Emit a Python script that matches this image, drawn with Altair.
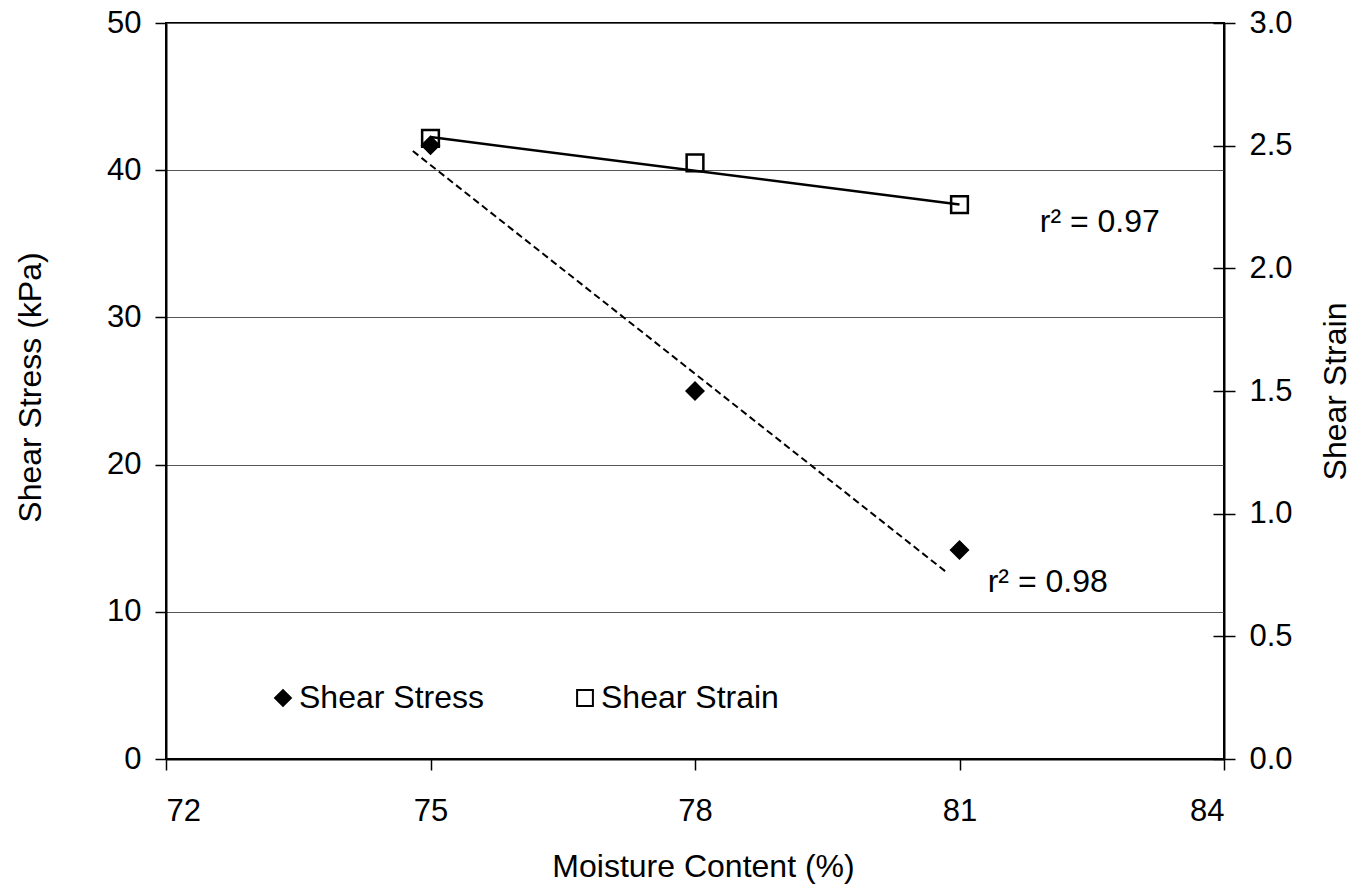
import altair as alt
import pandas as pd

FONT = "Liberation Sans"

# Measured points
moisture = [75, 78, 81]
shear_stress = [41.7, 25.0, 14.2]      # kPa
shear_strain = [2.53, 2.43, 2.26]

# Linear trendlines (end points of each fitted line)
stress_fit_x = [74.8, 80.85]
stress_fit_y = [41.3, 12.7]
strain_fit_x = [75.0, 81.0]
strain_fit_y = [2.535, 2.26]

# Coefficients of determination
stress_r2 = "r² = 0.98"
strain_r2 = "r² = 0.97"

x_ticks = [72, 75, 78, 81, 84]
stress_ticks = [0, 10, 20, 30, 40, 50]
strain_ticks = [0, 0.5, 1.0, 1.5, 2.0, 2.5, 3.0]

series_names = ["Shear Stress", "Shear Strain"]

stress_df = pd.DataFrame({"moisture": moisture, "value": shear_stress, "series": series_names[0]})
strain_df = pd.DataFrame({"moisture": moisture, "value": shear_strain, "series": series_names[1]})
stress_fit = pd.DataFrame({"moisture": stress_fit_x, "value": stress_fit_y})
strain_fit = pd.DataFrame({"moisture": strain_fit_x, "value": strain_fit_y})
stress_note = pd.DataFrame({"moisture": [81.32], "value": [12.0], "label": [stress_r2]})
strain_note = pd.DataFrame({"moisture": [81.91], "value": [2.19], "label": [strain_r2]})

x_axis = alt.Axis(
    values=x_ticks, title="Moisture Content (%)", tickSize=11, labelPadding=26, grid=False,
    titleX=537, titleY=107, titleBaseline="middle", titleAlign="center",
)
x_enc = alt.X("moisture:Q", scale=alt.Scale(domain=[72, 84], nice=False, zero=False), axis=x_axis)

left_axis = alt.Axis(
    values=stress_ticks, title="Shear Stress (kPa)", tickSize=11, labelPadding=14,
    grid=True, gridColor="#555555", gridWidth=1.2, orient="left",
    titleAngle=270, titleX=-136, titleY=364, titleBaseline="middle", titleAlign="center",
)
right_axis = alt.Axis(
    values=strain_ticks, format=".1f", title="Shear Strain", tickSize=11, labelPadding=14,
    grid=False, orient="right",
    titleAngle=270, titleX=111, titleY=368, titleBaseline="middle", titleAlign="center",
)
inner_ticks = alt.Axis(
    values=strain_ticks, title=None, tickSize=11, labels=False, domain=False,
    grid=False, orient="right", offset=-11,
)

y_left = alt.Y("value:Q", scale=alt.Scale(domain=[0, 50], nice=False), axis=left_axis)
y_right = alt.Y("value:Q", scale=alt.Scale(domain=[0, 3], nice=False), axis=right_axis)

legend = alt.Legend(
    orient="none", legendX=101, legendY=659, direction="horizontal", title=None,
    labelFont=FONT, labelFontSize=32, labelColor="black", labelLimit=400, symbolSize=250,
    symbolStrokeWidth=2, labelOffset=0, columnPadding=85, padding=0,
)
shape_enc = alt.Shape("series:N", scale=alt.Scale(domain=series_names, range=["diamond", "square"]), legend=legend)
fill_enc = alt.Fill("series:N", scale=alt.Scale(domain=series_names, range=["black", "white"]), legend=legend)
stroke_enc = alt.Stroke("series:N", scale=alt.Scale(domain=series_names, range=["black", "black"]), legend=legend)

# Shear strain (right axis)
strain_pts = alt.Chart(strain_df).mark_point(
    filled=True, strokeWidth=2.5, size=280, opacity=1
).encode(x=x_enc, y=y_right, shape=shape_enc, fill=fill_enc, stroke=stroke_enc)
strain_line = alt.Chart(strain_fit).mark_line(color="black", strokeWidth=2.5).encode(x=x_enc, y=y_right)
strain_text = alt.Chart(strain_note).mark_text(
    align="left", baseline="middle", font=FONT, fontSize=32, color="black"
).encode(x=x_enc, y=y_right, text="label:N")
strain_layer = alt.layer(strain_pts, strain_line, strain_text)

# Tick marks crossing the right axis toward the inside
tick_layer = alt.Chart(strain_df).mark_point(opacity=0).encode(
    x=x_enc, y=alt.Y("value:Q", scale=alt.Scale(domain=[0, 3], nice=False), axis=inner_ticks)
)

# Shear stress (left axis), drawn above the strain markers
stress_line = alt.Chart(stress_fit).mark_line(
    color="black", strokeWidth=2, strokeDash=[7, 4]
).encode(x=x_enc, y=y_left)
stress_pts = alt.Chart(stress_df).mark_point(
    filled=True, strokeWidth=1.5, size=320, opacity=1
).encode(x=x_enc, y=y_left, shape=shape_enc, fill=fill_enc, stroke=stroke_enc)
stress_text = alt.Chart(stress_note).mark_text(
    align="left", baseline="middle", font=FONT, fontSize=32, color="black"
).encode(x=x_enc, y=y_left, text="label:N")
stress_layer = alt.layer(stress_line, stress_pts, stress_text)

chart = alt.layer(strain_layer, tick_layer, stress_layer).resolve_scale(
    y="independent"
).properties(
    width=1058, height=736,
    autosize=alt.AutoSizeParams(type="none"),
    padding={"left": 166, "top": 23, "right": 133, "bottom": 132},
    background="white",
).configure_view(
    stroke="black", strokeWidth=2
).configure_axis(
    labelFont=FONT, labelFontSize=31, labelColor="black",
    titleFont=FONT, titleFontSize=32, titleColor="black", titleFontWeight="normal",
    domainColor="black", domainWidth=2, tickColor="black", tickWidth=1.5,
)

chart.save("out.html", embed_options={"renderer": "svg", "actions": False})
